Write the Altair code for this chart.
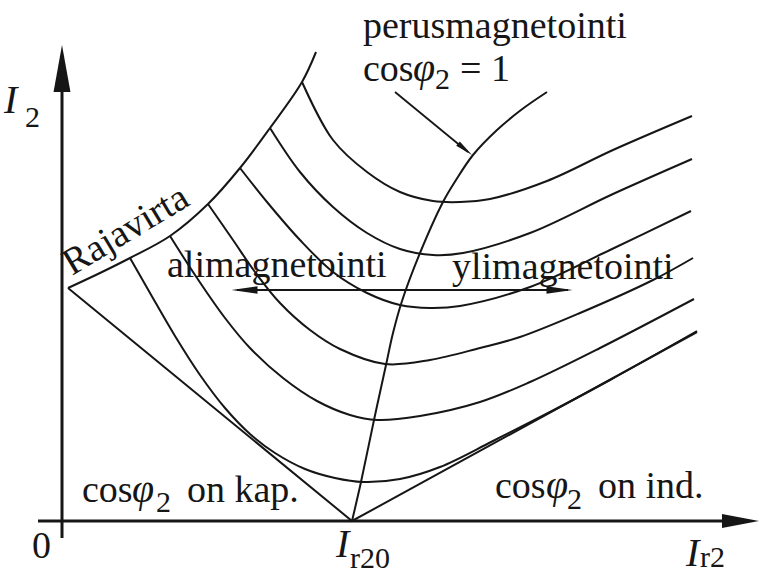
import altair as alt
import pandas as pd

# Synchronous machine V-curves.
# x: field current I_r2, y: armature current I_2 (drawing units, I_r20 at x = 290)

# stability limit ("Rajavirta")
raja_x = [6, 38, 68, 108, 146, 178, 208, 240, 254]
raja_y = [233, 248, 263, 285, 317, 353, 393, 439, 469]

# cos(phi2) = 1 locus through the minima of the V-curves
unity_x = [290, 299, 312, 324, 331, 340, 358, 381, 394, 411, 435, 459, 485]
unity_y = [0, 39, 101, 156, 188, 220, 268, 319, 341, 366, 391, 411, 429]

# no-load V
v0_x = [6, 290, 635]
v0_y = [233, 0, 189]

# loaded V-curves, heaviest load first
v1_x = [240, 271, 305, 338, 371, 398, 428, 485, 551, 630]
v1_y = [439, 381, 349, 329, 320, 319, 322, 340, 371, 405]
v2_x = [208, 238, 271, 305, 338, 371, 401, 468, 551, 630]
v2_y = [393, 349, 314, 288, 272, 266, 268, 288, 327, 362]
v3_x = [178, 205, 238, 271, 305, 338, 368, 398, 468, 548, 629]
v3_y = [353, 319, 281, 249, 228, 216, 213, 215, 234, 271, 310]
v4_x = [146, 171, 193, 218, 248, 278, 323, 368, 418, 458, 518, 591, 631]
v4_y = [317, 281, 249, 218, 191, 172, 157, 161, 173, 184, 208, 241, 263]
v5_x = [108, 135, 163, 188, 221, 255, 288, 315, 358, 418, 468, 538, 632]
v5_y = [285, 243, 203, 173, 143, 120, 106, 101, 105, 119, 139, 173, 222]
v6_x = [68, 88, 113, 138, 163, 188, 213, 243, 273, 301, 338, 378, 431, 488, 548, 635]
v6_y = [263, 228, 185, 146, 113, 87, 68, 52, 43, 39, 42, 54, 80, 109, 141, 190]

INK = "#161616"
FONT = "Liberation Serif"

xs = alt.Scale(domain=[-62, 697], nice=False, zero=False)
ys = alt.Scale(domain=[-55, 521], nice=False, zero=False)


def xy(chart):
    return chart.encode(
        x=alt.X("x:Q", scale=xs, axis=None),
        y=alt.Y("y:Q", scale=ys, axis=None),
    )


def table(**cols):
    return pd.DataFrame(cols)


# loaded curves, stability limit and cos(phi2) = 1 locus in one table
rows = []
for name, cx, cy in [("P1", v1_x, v1_y), ("P2", v2_x, v2_y), ("P3", v3_x, v3_y),
                     ("P4", v4_x, v4_y), ("P5", v5_x, v5_y), ("P6", v6_x, v6_y),
                     ("raja", raja_x, raja_y), ("unity", unity_x, unity_y)]:
    for a, b in zip(cx, cy):
        rows.append({"curve": name, "x": a, "y": b})
curves_df = pd.DataFrame(rows)

curves = xy(alt.Chart(curves_df).mark_line(
    interpolate="catmull-rom", color=INK, strokeWidth=2)).encode(detail="curve:N")

no_load = xy(alt.Chart(table(x=v0_x, y=v0_y)).mark_line(
    color=INK, strokeWidth=2)).encode(order=alt.Order("x:Q"))

# coordinate axes (with overhang past the origin) and annotation arrows
axes_df = table(x=[-24, 0], y=[0, -17], x2=[666, 0], y2=[0, 432])
axes = alt.Chart(axes_df).mark_rule(color=INK, strokeWidth=3).encode(
    x=alt.X("x:Q", scale=xs, axis=None), y=alt.Y("y:Q", scale=ys, axis=None),
    x2="x2:Q", y2="y2:Q")

shafts_df = table(x=[333, 175], y=[429, 231], x2=[406, 506], y2=[369, 231])
shafts = alt.Chart(shafts_df).mark_rule(color=INK, strokeWidth=1.8).encode(
    x=alt.X("x:Q", scale=xs, axis=None), y=alt.Y("y:Q", scale=ys, axis=None),
    x2="x2:Q", y2="y2:Q")


def head(x, y, angle, length, half):
    shape = f"M0,-1L{half},1L-{half},1Z"
    return xy(alt.Chart(table(x=[x], y=[y])).mark_point(
        shape=shape, filled=True, color=INK, opacity=1, strokeWidth=0,
        size=length * length, angle=angle))


heads = [
    head(0, 452.5, 0, 47, 0.36),       # I_2 axis
    head(678.5, 0, 90, 37, 0.38),      # I_r2 axis
    head(403, 371.7, 129, 18, 0.32),   # pointer to cos(phi2) = 1 curve
    head(182.5, 231, 270, 26, 0.28),   # under-excitation side
    head(497.5, 231, 90, 26, 0.28),    # over-excitation side
]


def texts(x, y, t, **mark):
    style = dict(font=FONT, color=INK, align="left", baseline="alphabetic")
    style.update(mark)
    return xy(alt.Chart(table(x=x, y=y, t=t)).mark_text(**style)).encode(text="t:N")


main_text = texts(
    [301, 301, 398, 20, 125, 433, 536, 105, 390, -30],
    [483, 440, 440, 19, 19, 23, 23, 244, 242, -37],
    ["perusmagnetointi", "cos", "= 1", "cos", "on kap.",
     "cos", "on ind.", "alimagnetointi", "ylimagnetointi", "0"],
    fontSize=38)

phi_text = texts([351, 70, 484], [440, 19, 23], ["\u03c6", "\u03c6", "\u03c6"],
                 fontSize=40, fontStyle="italic")

sub_text = texts([373, 94, 505], [432, 9, 12], ["2", "2", "2"], fontSize=30)

axis_sub = texts([288, 638, -37], [-47, -46, 394], ["r20", "r2", "2"], fontSize=30)
axis_i = texts([274, 624, -58], [-36, -45, 408], ["I", "I", "I"],
               fontSize=40, fontStyle="italic")

raja_label = texts([10], [245], ["Rajavirta"], fontSize=38, angle=329)

chart = alt.layer(
    axes, curves, no_load, shafts, *heads,
    main_text, phi_text, sub_text, axis_sub, axis_i, raja_label,
).properties(
    width=759, height=576,
    autosize=alt.AutoSizeParams(type="none"),
    padding=0,
    background="white",
).configure_view(strokeWidth=0)

chart.save("out.html", embed_options={"renderer": "svg", "actions": False})
